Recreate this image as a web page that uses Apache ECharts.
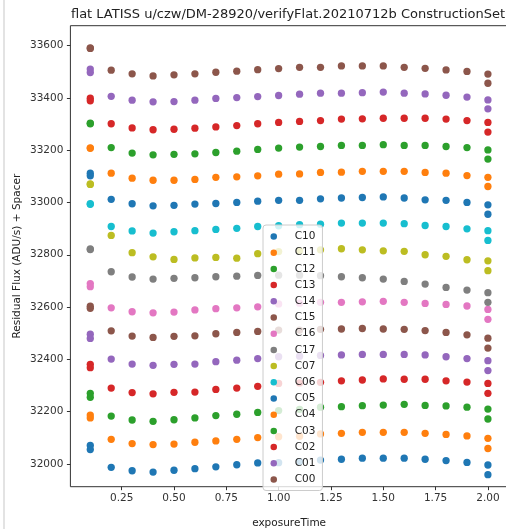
<!DOCTYPE html>
<html>
<head>
<meta charset="utf-8">
<script src="https://cdn.jsdelivr.net/npm/echarts@6/dist/echarts.min.js"></script>
<style>html,body{margin:0;padding:0;background:#fff;}#c{width:506px;height:529px;}</style>
</head>
<body>
<div id="c"></div>
<script>
// exposure times (two exposures at 0.1 and at 2.0)
const exposureTime = [0.1, 0.1, 0.2, 0.3, 0.4, 0.5, 0.6, 0.7, 0.8, 0.9, 1.0, 1.1, 1.2, 1.3, 1.4, 1.5, 1.6, 1.7, 1.8, 1.9, 2.0, 2.0];
const seriesNames = ['C10','C11','C12','C13','C14','C15','C16','C17','C07','C06','C05','C04','C03','C02','C01','C00'];
const C10 = [32071,32055,31987,31974,31969,31976,31982,31989,31997,32004,32005,32009,32015,32018,32022,32022,32022,32018,32013,32006,31996,31959];
const C11 = [32187,32176,32094,32078,32074,32076,32083,32088,32094,32101,32104,32106,32115,32117,32121,32121,32121,32117,32113,32107,32098,32059];
const C12 = [32270,32255,32183,32168,32163,32169,32176,32185,32190,32197,32204,32209,32217,32219,32223,32225,32228,32224,32222,32217,32210,32172];
const C13 = [32381,32368,32290,32273,32268,32274,32275,32285,32290,32297,32308,32310,32312,32318,32321,32325,32324,32324,32318,32313,32308,32270];
const C14 = [32496,32480,32401,32382,32377,32381,32382,32391,32397,32403,32410,32412,32415,32417,32419,32419,32419,32417,32410,32403,32395,32357];
const C15 = [32603,32595,32509,32489,32484,32488,32490,32498,32503,32507,32512,32512,32515,32516,32518,32516,32515,32510,32503,32494,32481,32443];
const C16 = [32690,32678,32597,32582,32578,32581,32589,32594,32597,32601,32612,32615,32618,32618,32620,32622,32618,32614,32610,32604,32591,32553];
const C17 = [32822,32820,32735,32715,32707,32710,32712,32716,32718,32721,32722,32722,32720,32716,32712,32707,32698,32688,32675,32665,32655,32618];
const C07 = [33071,33069,32874,32808,32792,32782,32788,32790,32787,32804,32812,32815,32819,32823,32819,32815,32813,32800,32794,32781,32777,32739];
const C06 = [32995,32993,32908,32891,32883,32888,32892,32897,32901,32908,32911,32915,32917,32921,32921,32921,32919,32912,32908,32899,32892,32855];
const C05 = [33112,33102,33012,32995,32987,32989,32994,32996,33000,33005,33008,33008,33014,33017,33019,33021,33017,33010,33008,33000,32991,32955];
const C04 = [33209,33207,33112,33093,33085,33085,33088,33096,33098,33102,33108,33109,33115,33116,33119,33119,33119,33115,33112,33103,33096,33061];
const C03 = [33303,33301,33210,33189,33182,33184,33186,33191,33196,33203,33208,33212,33214,33218,33218,33221,33218,33218,33214,33210,33201,33166];
const C02 = [33399,33389,33301,33285,33278,33280,33284,33289,33294,33301,33306,33310,33313,33319,33320,33322,33322,33322,33319,33313,33306,33269];
const C01 = [33510,33497,33406,33391,33385,33386,33391,33398,33401,33405,33409,33414,33418,33418,33420,33422,33418,33415,33410,33403,33392,33358];
const C00 = [33591,33589,33506,33492,33484,33488,33492,33498,33502,33508,33512,33517,33517,33522,33522,33522,33517,33513,33507,33501,33491,33456];
const seriesValues = [C10,C11,C12,C13,C14,C15,C16,C17,C07,C06,C05,C04,C03,C02,C01,C00];
const xTicks = [0.25, 0.5, 0.75, 1.0, 1.25, 1.5, 1.75, 2.0];
const yTicks = [32000, 32200, 32400, 32600, 32800, 33000, 33200, 33400, 33600];
const palette = ['#1f77b4','#ff7f0e','#2ca02c','#d62728','#9467bd','#8c564b','#e377c2','#7f7f7f','#bcbd22','#17becf'];

const FONT = 'DejaVu Sans';
const chart = echarts.init(document.getElementById('c'), null, {renderer: 'canvas'});
const series = seriesNames.map((name, i) => ({
  name: name,
  type: 'scatter',
  symbol: 'circle',
  symbolSize: 7.3,
  itemStyle: {color: palette[i % 10], opacity: 1},
  data: exposureTime.map((x, j) => [x, seriesValues[i][j]])
}));

chart.setOption({
  animation: false,
  backgroundColor: '#ffffff',
  title: {
    text: 'flat LATISS u/czw/DM-28920/verifyFlat.20210712b ConstructionSet',
    left: 288, top: 8, textAlign: 'center', padding: 0,
    textStyle: {fontFamily: FONT, fontSize: 13, fontWeight: 'normal', color: '#222'}
  },
  grid: {left: 70.4, top: 25.7, width: 437.4, height: 461, outerBoundsMode: 'none', containLabel: false,
    show: true, borderColor: '#333', borderWidth: 1, backgroundColor: 'transparent'},
  xAxis: {
    type: 'value', min: 0.005, max: 2.095,
    name: 'exposureTime', nameLocation: 'middle', nameGap: 31.5, nameMoveOverlap: false,
    nameTextStyle: {fontFamily: FONT, fontSize: 10.5, color: '#222'},
    axisLine: {show: false},
    splitLine: {show: false},
    axisTick: {show: true, length: 3.5, lineStyle: {color: '#333'}, customValues: xTicks},
    axisLabel: {fontFamily: FONT, fontSize: 10.5, color: '#333', margin: 6,
      customValues: xTicks, formatter: v => v.toFixed(2)}
  },
  yAxis: {
    type: 'value', min: 31913, max: 33676,
    name: 'Residual Flux (ADU/s) + Spacer', nameLocation: 'middle', nameGap: 48, nameMoveOverlap: false,
    nameTextStyle: {fontFamily: FONT, fontSize: 10.5, color: '#222'},
    axisLine: {show: false},
    splitLine: {show: false},
    axisTick: {show: true, length: 3.5, lineStyle: {color: '#333'}, customValues: yTicks},
    axisLabel: {fontFamily: FONT, fontSize: 10.5, color: '#333', margin: 7,
      customValues: yTicks, formatter: v => String(v)}
  },
  legend: {
    orient: 'vertical', left: 263, top: 225,
    padding: [5.5, 7, 5, 7.5],
    itemWidth: 8, itemHeight: 6.5, itemGap: 4.2,
    icon: 'circle',
    backgroundColor: 'rgba(255,255,255,0.8)',
    borderColor: '#cccccc', borderWidth: 1, borderRadius: 3,
    textStyle: {fontFamily: FONT, fontSize: 10.5, color: '#222', lineHeight: 12, padding: [0, 0, 0, 12]},
    data: seriesNames
  },
  graphic: [
    {type: 'rect', left: 3, top: 0, shape: {width: 2, height: 529}, style: {fill: '#e3e3e3'}, silent: true}
  ],
  series: series
});
</script>
</body>
</html>
